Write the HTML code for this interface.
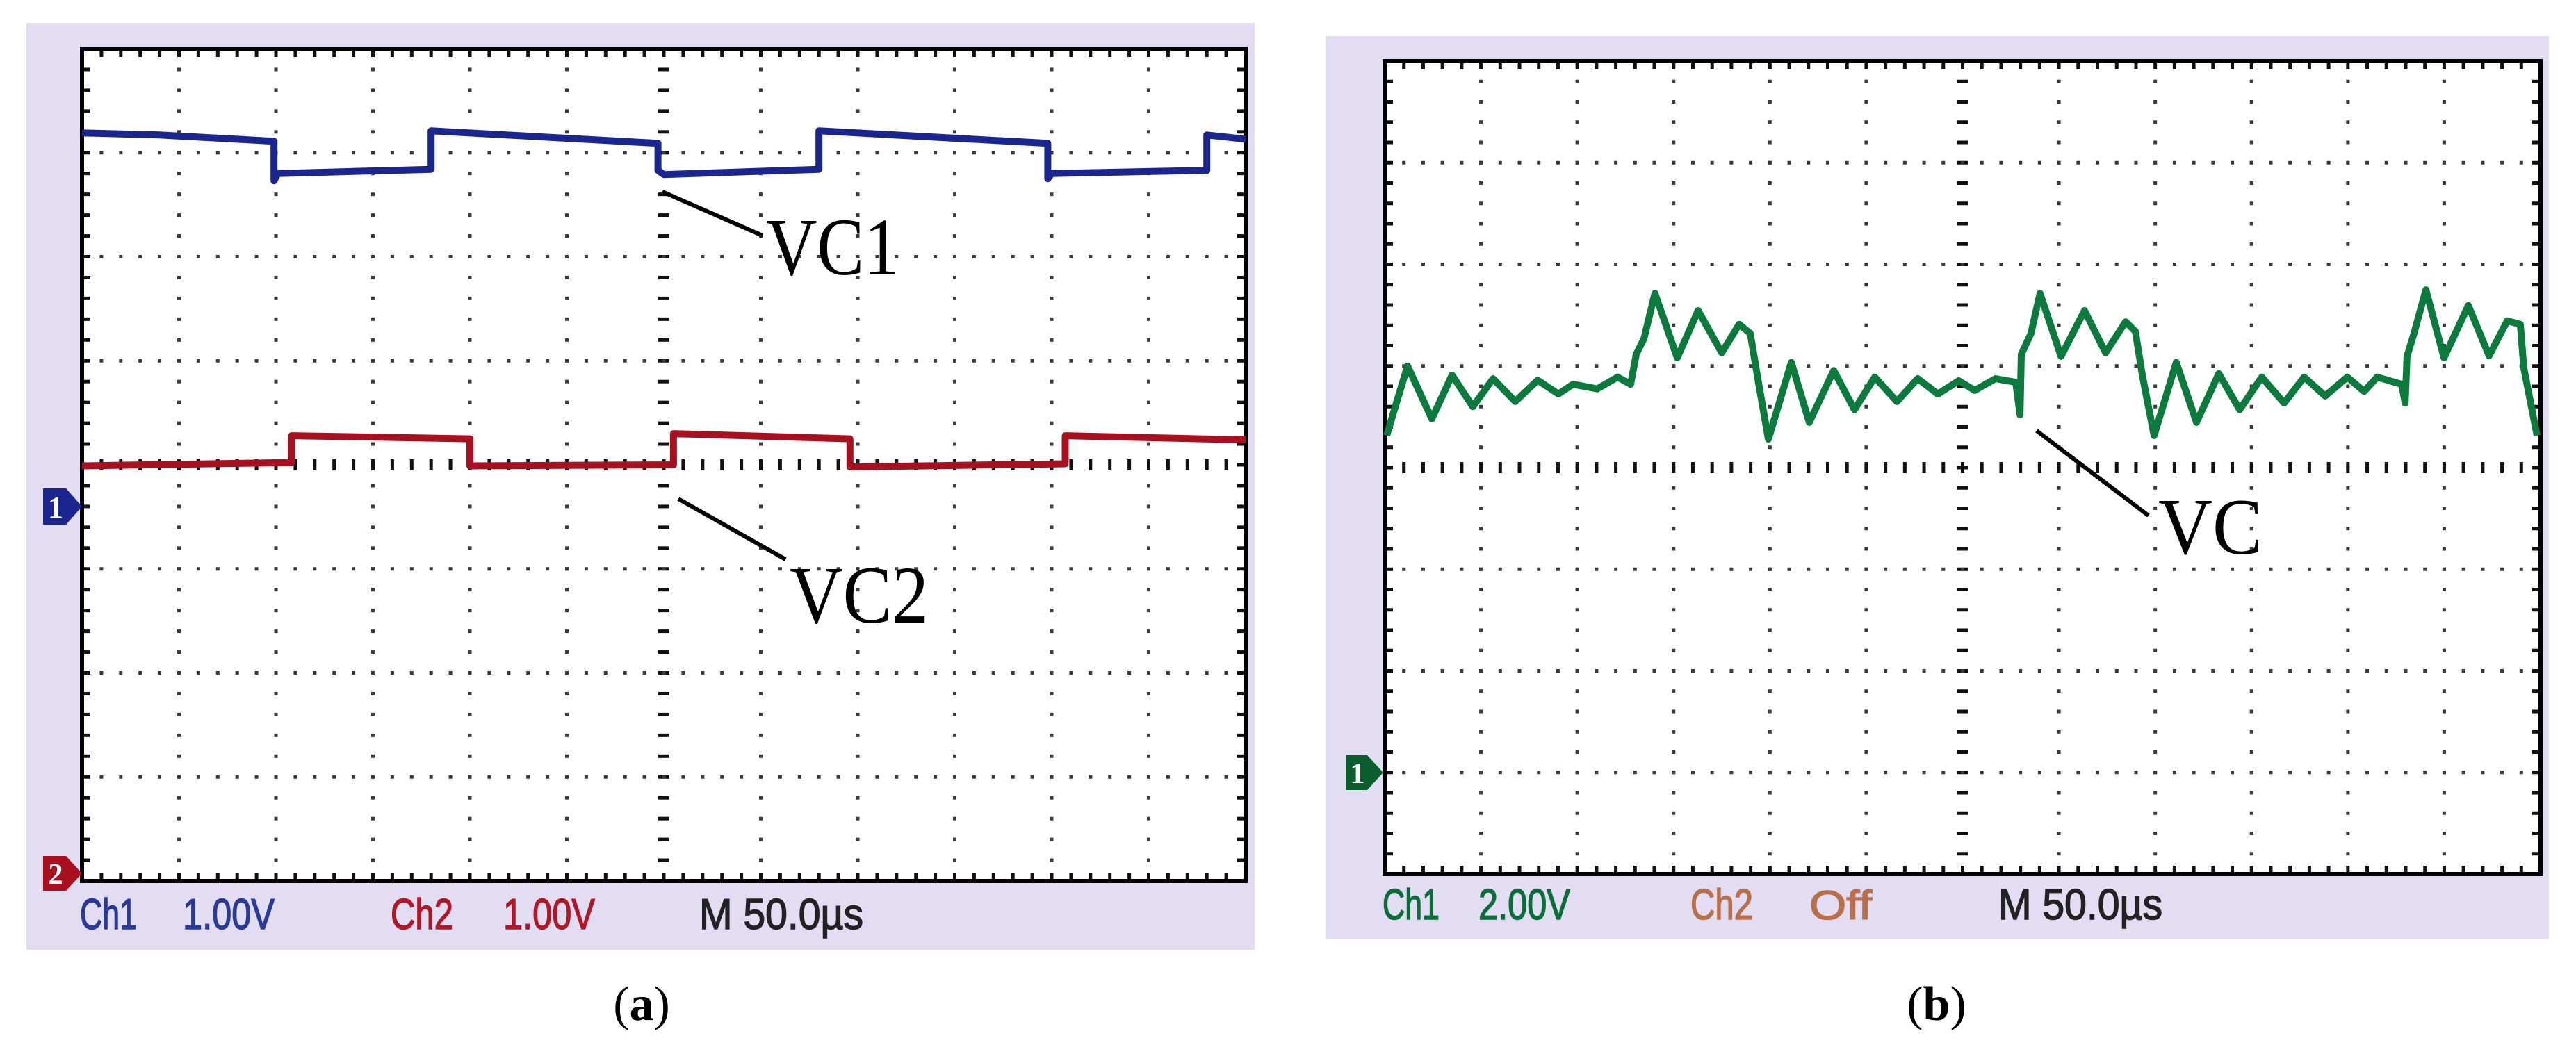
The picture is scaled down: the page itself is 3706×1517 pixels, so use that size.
<!DOCTYPE html>
<html><head><meta charset="utf-8"><style>
html,body{margin:0;padding:0;background:#fff;}
svg{display:block;}
</style></head><body>
<svg id="fig" width="3706" height="1517" viewBox="0 0 3706 1517" xmlns="http://www.w3.org/2000/svg">
  <rect x="38" y="33" width="1767" height="1334" fill="#e3ddf3"/>
  <rect x="1907" y="52" width="1760" height="1300" fill="#e3ddf3"/>
  <rect x="118" y="70" width="1674" height="1198" fill="#fff"/>
  <rect x="1992" y="88" width="1663" height="1170" fill="#fff"/>
  <g id="gridA"></g>
  <g id="gridB"></g>
  <g id="traces"></g>

  <g>
    <path d="M62,703 L95,703 L118,729 L95,755 L62,755 Z" fill="#1a2590"/>
    <text x="80" y="745" font-family="Liberation Serif, serif" font-weight="bold" font-size="44" fill="#fff" text-anchor="middle">1</text>
  </g>
  <g>
    <path d="M62,1232 L95,1232 L118,1257 L95,1282 L62,1282 Z" fill="#a81020"/>
    <text x="80" y="1272" font-family="Liberation Serif, serif" font-weight="bold" font-size="42" fill="#fff" text-anchor="middle">2</text>
  </g>
  <g>
    <path d="M1936,1087 L1967,1087 L1990,1112 L1967,1137 L1936,1137 Z" fill="#0b5e2e"/>
    <text x="1953" y="1127" font-family="Liberation Serif, serif" font-weight="bold" font-size="42" fill="#fff" text-anchor="middle">1</text>
  </g>

  <line x1="953" y1="276" x2="1097" y2="339" stroke="#000" stroke-width="6"/>
  <text x="1102" y="395" font-family="Liberation Serif, serif" font-size="118" textLength="192" lengthAdjust="spacingAndGlyphs" fill="#000">VC1</text>
  <line x1="976" y1="718" x2="1130" y2="805" stroke="#000" stroke-width="6"/>
  <text x="1136" y="896" font-family="Liberation Serif, serif" font-size="118" textLength="200" lengthAdjust="spacingAndGlyphs" fill="#000">VC2</text>
  <line x1="2930" y1="620" x2="3091" y2="742" stroke="#000" stroke-width="6"/>
  <text x="3105" y="797" font-family="Liberation Serif, serif" font-size="115" textLength="150" lengthAdjust="spacingAndGlyphs" fill="#000">VC</text>

  <g font-family="Liberation Sans, sans-serif" font-size="62" stroke-width="1.5">
    <text x="115" y="1337" fill="#2a3a9a" stroke="#2a3a9a" textLength="82" lengthAdjust="spacingAndGlyphs">Ch1</text>
    <text x="263" y="1337" fill="#2a3a9a" stroke="#2a3a9a" textLength="132" lengthAdjust="spacingAndGlyphs">1.00V</text>
    <text x="562" y="1337" fill="#b01828" stroke="#b01828" textLength="90" lengthAdjust="spacingAndGlyphs">Ch2</text>
    <text x="724" y="1337" fill="#b01828" stroke="#b01828" textLength="132" lengthAdjust="spacingAndGlyphs">1.00V</text>
    <text x="1006" y="1337" fill="#222" stroke="#222" textLength="236" lengthAdjust="spacingAndGlyphs">M 50.0µs</text>
  </g>
  <g font-family="Liberation Sans, sans-serif" font-size="62" stroke-width="1.5">
    <text x="1989" y="1323" fill="#0b6e38" stroke="#0b6e38" textLength="82" lengthAdjust="spacingAndGlyphs">Ch1</text>
    <text x="2127" y="1323" fill="#0b6e38" stroke="#0b6e38" textLength="132" lengthAdjust="spacingAndGlyphs">2.00V</text>
    <text x="2432" y="1323" fill="#b8704a" stroke="#b8704a" textLength="90" lengthAdjust="spacingAndGlyphs">Ch2</text>
    <text x="2603" y="1323" fill="#b8704a" stroke="#b8704a" font-size="58" textLength="90" lengthAdjust="spacingAndGlyphs">Off</text>
    <text x="2875" y="1323" fill="#222" stroke="#222" textLength="236" lengthAdjust="spacingAndGlyphs">M 50.0µs</text>
  </g>

  <text x="923" y="1468" font-family="Liberation Serif, serif" font-size="70" text-anchor="middle" fill="#000">(<tspan font-weight="bold">a</tspan>)</text>
  <text x="2786" y="1468" font-family="Liberation Serif, serif" font-size="70" text-anchor="middle" fill="#000">(<tspan font-weight="bold">b</tspan>)</text>
</svg>
<script>
// Panel (a) channel 1 (blue), time in µs, voltage in V (1 V/div)
const blueTime = [0,40,99,99,101,180,180,297,297,300,380,380,498,498,500,580,580,600];
const blueVolt = [3.58,3.56,3.50,3.12,3.19,3.23,3.60,3.48,3.22,3.18,3.23,3.60,3.48,3.14,3.19,3.22,3.56,3.52];
// Panel (a) channel 2 (red)
const redTime = [0,100,108,108,200,200,305,305,396,396,507,507,600];
const redVolt = [3.92,3.95,3.95,4.21,4.18,3.92,3.93,4.23,4.18,3.91,3.94,4.21,4.17];
// Panel (b) channel 1 (green), 2 V/div
const greenTime = [1.1,6.1,11.9,24.5,35.0,45.8,56.3,67.8,79.4,90.2,97.8,110.4,120.9,127.7,130.6,134.6,140.3,151.9,162.7,175.0,184.0,189.8,193.4,199.2,211.1,220.4,233.1,243.9,254.4,265.9,276.7,287.2,298.0,306.3,317.1,327.6,329.8,330.5,335.5,340.2,351.1,363.3,374.2,384.6,389.7,393.3,399.4,410.9,421.4,433.0,443.8,455.3,466.9,477.3,488.2,499.7,508.4,515.2,527.9,529.7,530.7,534.3,540.5,549.9,562.5,573.3,582.7,589.5,591.3,598.2];
const greenVolt = [6.63,7.27,8.00,6.96,7.82,7.20,7.75,7.30,7.72,7.45,7.64,7.55,7.78,7.64,8.23,8.54,9.43,8.16,9.09,8.26,8.82,8.64,7.82,6.56,8.07,6.89,7.91,7.14,7.78,7.30,7.75,7.45,7.71,7.52,7.75,7.68,7.04,8.23,8.64,9.43,8.19,9.09,8.26,8.87,8.68,7.82,6.63,8.07,6.89,7.85,7.14,7.78,7.27,7.78,7.41,7.78,7.50,7.78,7.64,7.27,8.19,8.64,9.50,8.16,9.19,8.20,8.89,8.82,7.96,6.63];

const NS = 'http://www.w3.org/2000/svg';
const PA = {x0:118, y0:70, w:1674, h:1198};
const PB = {x0:1992, y0:88, w:1663, h:1170};
const COLS = 12, ROWS = 8, TDIV = 50;

function xScale(P, t){ return P.x0 + t / TDIV * (P.w / COLS); }
function yScale(P, v, gnd, vdiv){ return P.y0 + (gnd - v / vdiv) * (P.h / ROWS); }

function rect(g, x, y, w, h, fill){
  const r = document.createElementNS(NS, 'rect');
  r.setAttribute('x', x); r.setAttribute('y', y);
  r.setAttribute('width', w); r.setAttribute('height', h);
  r.setAttribute('fill', fill);
  g.appendChild(r);
  return r;
}

function drawGrid(g, P){
  const cw = P.w / COLS, rh = P.h / ROWS, mx = cw / 5, my = rh / 5;
  const dot = '#3a3a3a';
  for (let i = 1; i < COLS; i++){
    const x = P.x0 + i * cw;
    for (let k = 1; k < ROWS * 5; k++){
      const y = P.y0 + k * my;
      if (i === COLS / 2) rect(g, x - 8, y - 2.5, 16, 5, '#111');
      else rect(g, x - 2.5, y - 2.5, 5, 5, dot);
    }
  }
  for (let j = 1; j < ROWS; j++){
    const y = P.y0 + j * rh;
    for (let k = 1; k < COLS * 5; k++){
      const x = P.x0 + k * mx;
      if (j === ROWS / 2) rect(g, x - 2.5, y - 8, 5, 16, '#111');
      else rect(g, x - 2.5, y - 2.5, 5, 5, dot);
    }
  }
  for (let k = 1; k < COLS * 5; k++){
    const x = P.x0 + k * mx;
    rect(g, x - 2.5, P.y0, 5, 12, '#111');
    rect(g, x - 2.5, P.y0 + P.h - 12, 5, 12, '#111');
  }
  for (let k = 1; k < ROWS * 5; k++){
    const y = P.y0 + k * my;
    rect(g, P.x0, y - 2.5, 12, 5, '#111');
    rect(g, P.x0 + P.w - 12, y - 2.5, 12, 5, '#111');
  }
  const b = document.createElementNS(NS, 'rect');
  b.setAttribute('x', P.x0); b.setAttribute('y', P.y0);
  b.setAttribute('width', P.w); b.setAttribute('height', P.h);
  b.setAttribute('fill', 'none'); b.setAttribute('stroke', '#000'); b.setAttribute('stroke-width', '6');
  g.appendChild(b);
}

function drawTrace(g, P, ts, vs, gnd, vdiv, color, name){
  const pts = ts.map((t, i) => xScale(P, t).toFixed(1) + ',' + yScale(P, vs[i], gnd, vdiv).toFixed(1)).join(' ');
  const pl = document.createElementNS(NS, 'polyline');
  pl.setAttribute('points', pts);
  pl.setAttribute('fill', 'none');
  pl.setAttribute('stroke', color);
  pl.setAttribute('stroke-width', '10');
  pl.setAttribute('stroke-linejoin', 'round');
  
  
  g.appendChild(pl);
}

drawGrid(document.getElementById('gridA'), PA);
drawGrid(document.getElementById('gridB'), PB);
const tg = document.getElementById('traces');
drawTrace(tg, PA, blueTime, blueVolt, 4.39, 1, '#1a2590', 'vc1-trace');
drawTrace(tg, PA, redTime, redVolt, 7.93, 1, '#a81020', 'vc2-trace');
drawTrace(tg, PB, greenTime, greenVolt, 7.0, 2, '#0b7a3c', 'vc-trace');
</script>
</body></html>
